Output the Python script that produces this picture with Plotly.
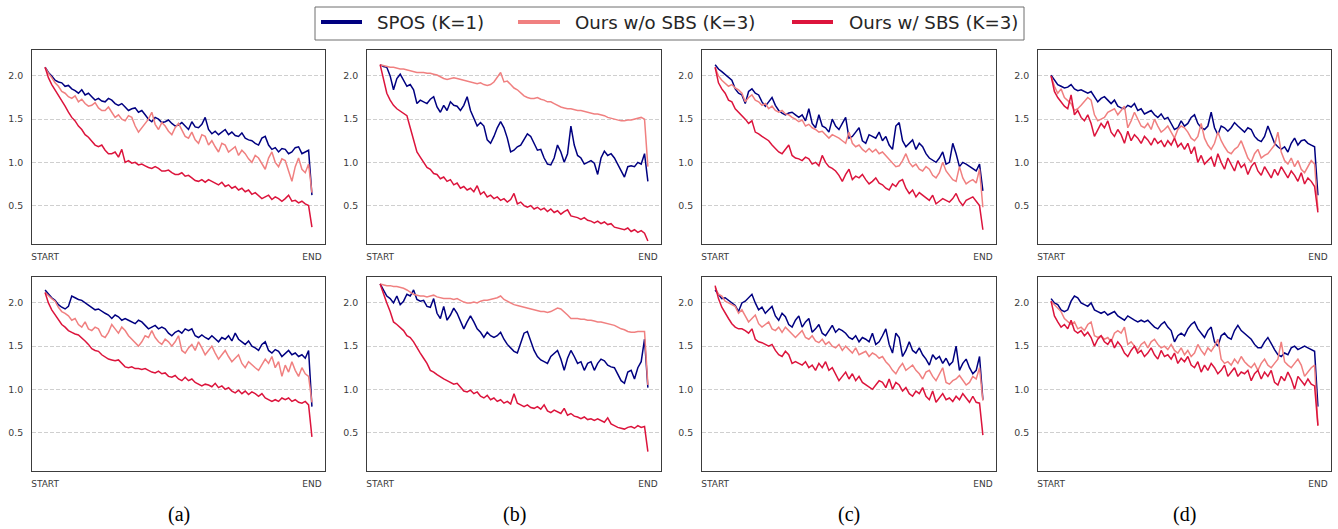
import plotly.graph_objects as go

# ---------------- data ----------------
SERIES = ["SPOS (K=1)", "Ours w/o SBS (K=3)", "Ours w/ SBS (K=3)"]
COLORS = ["#000080", "#F08080", "#DC143C"]
PANEL_LABELS = ["(a)", "(b)", "(c)", "(d)"]
X_TICKVALS = [0, 1]
X_TICKTEXT = ["START", "END"]
Y_TICKS = [0.5, 1.0, 1.5, 2.0]

a_top_spos = [2.10, 2.04, 2.00, 1.95, 1.93, 1.92, 1.88, 1.89, 1.85, 1.83,
              1.80, 1.84, 1.78, 1.80, 1.76, 1.72, 1.74, 1.71, 1.70, 1.74,
              1.72, 1.68, 1.66, 1.68, 1.64, 1.60, 1.62, 1.63, 1.58, 1.60,
              1.55, 1.50, 1.47, 1.52, 1.50, 1.46, 1.47, 1.49, 1.45, 1.42,
              1.43, 1.46, 1.42, 1.38, 1.47, 1.41, 1.40, 1.44, 1.52, 1.38,
              1.33, 1.36, 1.32, 1.35, 1.38, 1.32, 1.35, 1.31, 1.30, 1.34,
              1.28, 1.26, 1.25, 1.22, 1.20, 1.28, 1.30, 1.20, 1.15, 1.17,
              1.12, 1.16, 1.15, 1.10, 1.12, 1.17, 1.18, 1.10, 1.12, 1.14, 0.62]
a_top_wo = [2.10, 2.03, 1.98, 1.92, 1.88, 1.82, 1.80, 1.76, 1.74, 1.77,
            1.70, 1.73, 1.68, 1.65, 1.66, 1.69, 1.63, 1.60, 1.60, 1.64,
            1.58, 1.52, 1.55, 1.50, 1.48, 1.54, 1.52, 1.42, 1.35, 1.40,
            1.45, 1.50, 1.58, 1.44, 1.38, 1.46, 1.42, 1.36, 1.32, 1.40,
            1.45, 1.38, 1.30, 1.28, 1.35, 1.26, 1.22, 1.32, 1.30, 1.20,
            1.25, 1.18, 1.12, 1.22, 1.20, 1.12, 1.15, 1.18, 1.08, 1.14,
            1.10, 1.04, 1.00, 1.08, 1.05, 0.98, 0.92, 1.05, 1.12, 1.00,
            0.95, 1.04, 1.02, 0.90, 0.78, 0.95, 1.05, 0.92, 0.88, 0.98, 0.65]
a_top_w = [2.10, 1.98, 1.90, 1.84, 1.78, 1.71, 1.65, 1.58, 1.52, 1.48,
           1.42, 1.38, 1.32, 1.29, 1.25, 1.20, 1.18, 1.20, 1.14, 1.10,
           1.10, 1.12, 1.06, 1.15, 1.00, 1.02, 0.99, 1.00, 0.97, 0.98,
           0.96, 0.94, 0.93, 0.95, 0.93, 0.90, 0.90, 0.91, 0.88, 0.86,
           0.86, 0.88, 0.84, 0.85, 0.82, 0.79, 0.78, 0.80, 0.77, 0.80,
           0.78, 0.76, 0.74, 0.77, 0.72, 0.74, 0.70, 0.72, 0.68, 0.70,
           0.66, 0.68, 0.63, 0.65, 0.62, 0.58, 0.60, 0.62, 0.57, 0.60,
           0.58, 0.55, 0.58, 0.62, 0.55, 0.56, 0.53, 0.55, 0.52, 0.50, 0.25]

b_top_spos = [2.13, 2.11, 2.10, 2.00, 1.84, 1.97, 2.02, 1.95, 1.88, 1.90,
              1.84, 1.68, 1.72, 1.70, 1.68, 1.73, 1.76, 1.64, 1.58, 1.66,
              1.60, 1.70, 1.66, 1.65, 1.60, 1.66, 1.76, 1.60, 1.50, 1.42,
              1.46, 1.42, 1.26, 1.22, 1.30, 1.40, 1.47, 1.40, 1.28, 1.12,
              1.14, 1.18, 1.20, 1.26, 1.33, 1.30, 1.22, 1.14, 1.15, 1.05,
              0.98, 0.97, 1.05, 1.20, 1.12, 1.00, 1.10, 1.42, 1.20, 1.08,
              1.05, 0.98, 1.00, 1.02, 0.99, 0.86, 1.05, 1.13, 1.08, 1.10,
              1.05, 0.98, 0.90, 0.83, 0.95, 0.96, 0.95, 1.00, 0.98, 1.10, 0.78]
b_top_wo = [2.13, 2.12, 2.11, 2.10, 2.10, 2.09, 2.08, 2.08, 2.07, 2.06,
            2.05, 2.04, 2.04, 2.04, 2.03, 2.03, 2.02, 2.01, 1.99, 1.97,
            1.96, 1.97, 1.98, 1.97, 1.96, 1.95, 1.94, 1.93, 1.92, 1.91,
            1.92, 1.90, 1.89, 1.90, 1.93, 1.98, 2.04, 1.93, 1.94, 1.90,
            1.86, 1.84, 1.80, 1.77, 1.75, 1.74, 1.74, 1.75, 1.73, 1.72,
            1.70, 1.70, 1.68, 1.66, 1.64, 1.63, 1.62, 1.62, 1.61, 1.60,
            1.60, 1.59, 1.58, 1.57, 1.56, 1.56, 1.55, 1.54, 1.52, 1.51,
            1.50, 1.49, 1.48, 1.48, 1.49, 1.49, 1.50, 1.51, 1.52, 1.50, 0.95]
b_top_w = [2.13, 1.95, 1.80, 1.72, 1.66, 1.62, 1.59, 1.57, 1.54, 1.40,
           1.26, 1.12, 1.06, 1.00, 0.94, 0.92, 0.87, 0.86, 0.81, 0.83,
           0.78, 0.80, 0.74, 0.76, 0.70, 0.72, 0.68, 0.70, 0.66, 0.73,
           0.63, 0.66, 0.60, 0.62, 0.58, 0.60, 0.56, 0.58, 0.54, 0.57,
           0.64, 0.52, 0.54, 0.50, 0.48, 0.50, 0.46, 0.48, 0.45, 0.47,
           0.43, 0.46, 0.42, 0.44, 0.40, 0.43, 0.45, 0.38, 0.37, 0.36,
           0.34, 0.36, 0.33, 0.32, 0.30, 0.32, 0.29, 0.31, 0.28, 0.29,
           0.25, 0.24, 0.23, 0.22, 0.24, 0.20, 0.22, 0.19, 0.21, 0.18, 0.09]

c_top_spos = [2.13, 2.08, 2.05, 2.02, 1.98, 1.95, 1.85, 1.80, 1.78, 1.68,
              1.82, 1.85, 1.80, 1.78, 1.70, 1.65, 1.70, 1.75, 1.66, 1.60,
              1.57, 1.55, 1.57, 1.58, 1.55, 1.52, 1.55, 1.48, 1.62, 1.45,
              1.40, 1.55, 1.42, 1.40, 1.35, 1.50, 1.42, 1.38, 1.45, 1.52,
              1.28, 1.30, 1.35, 1.40, 1.25, 1.22, 1.32, 1.30, 1.28, 1.35,
              1.25, 1.30, 1.20, 1.15, 1.42, 1.46, 1.25, 1.18, 1.22, 1.26,
              1.15, 1.22, 1.18, 1.10, 1.05, 1.02, 1.00, 1.05, 1.12, 0.98,
              1.00, 1.22, 1.10, 0.95, 1.00, 0.98, 0.95, 0.92, 0.90, 0.98, 0.67]
c_top_wo = [2.10, 2.00, 1.95, 1.92, 1.88, 1.90, 1.86, 1.84, 1.80, 1.70,
            1.75, 1.78, 1.72, 1.70, 1.66, 1.68, 1.62, 1.65, 1.60, 1.58,
            1.60, 1.56, 1.55, 1.52, 1.50, 1.47, 1.49, 1.42, 1.44, 1.40,
            1.38, 1.35, 1.36, 1.32, 1.28, 1.32, 1.30, 1.28, 1.25, 1.22,
            1.35, 1.22, 1.18, 1.20, 1.15, 1.12, 1.16, 1.12, 1.15, 1.10,
            1.12, 1.08, 1.03, 1.00, 0.95, 0.96, 1.02, 1.10, 1.00, 0.95,
            0.98, 0.92, 0.90, 0.95, 0.92, 0.85, 0.82, 0.88, 1.00, 0.90,
            0.85, 0.80, 0.78, 0.95, 0.82, 0.75, 0.78, 0.80, 0.76, 0.92, 0.48]
c_top_w = [2.10, 1.92, 1.85, 1.80, 1.72, 1.70, 1.62, 1.58, 1.55, 1.50,
           1.45, 1.48, 1.35, 1.33, 1.30, 1.27, 1.25, 1.20, 1.16, 1.12,
           1.10, 1.15, 1.20, 1.08, 1.05, 1.04, 1.02, 1.06, 1.04, 0.98,
           1.00, 0.96, 1.08, 1.00, 0.95, 0.93, 0.90, 0.85, 0.78, 0.86,
           0.92, 0.80, 0.84, 0.82, 0.86, 0.80, 0.75, 0.78, 0.82, 0.76,
           0.74, 0.70, 0.68, 0.75, 0.72, 0.78, 0.80, 0.70, 0.64, 0.68,
           0.60, 0.65, 0.62, 0.58, 0.56, 0.62, 0.52, 0.55, 0.58, 0.56,
           0.54, 0.58, 0.64, 0.55, 0.50, 0.56, 0.58, 0.60, 0.55, 0.50, 0.22]

d_top_spos = [2.01, 1.95, 1.90, 1.88, 1.86, 1.87, 1.90, 1.85, 1.83, 1.84,
              1.82, 1.80, 1.82, 1.76, 1.70, 1.74, 1.76, 1.72, 1.68, 1.72,
              1.65, 1.63, 1.62, 1.66, 1.64, 1.68, 1.60, 1.62, 1.56, 1.58,
              1.60, 1.55, 1.52, 1.56, 1.50, 1.52, 1.45, 1.38, 1.40, 1.48,
              1.42, 1.45, 1.52, 1.55, 1.45, 1.40, 1.38, 1.42, 1.58, 1.40,
              1.32, 1.42, 1.40, 1.36, 1.40, 1.46, 1.42, 1.38, 1.35, 1.40,
              1.38, 1.30, 1.26, 1.24, 1.30, 1.42, 1.32, 1.22, 1.18, 1.15,
              1.18, 1.12, 1.22, 1.28, 1.20, 1.25, 1.26, 1.22, 1.20, 1.18, 0.62]
d_top_wo = [2.00, 1.88, 1.80, 1.85, 1.75, 1.72, 1.68, 1.60, 1.62, 1.66,
            1.70, 1.75, 1.72, 1.55, 1.48, 1.50, 1.52, 1.58, 1.60, 1.62,
            1.55, 1.60, 1.65, 1.40, 1.48, 1.58, 1.50, 1.42, 1.40, 1.45,
            1.38, 1.50, 1.42, 1.35, 1.38, 1.42, 1.35, 1.28, 1.38, 1.42,
            1.40, 1.35, 1.28, 1.25, 1.30, 1.45, 1.28, 1.20, 1.15, 1.22,
            1.35, 1.25, 1.18, 1.12, 1.10, 1.15, 1.18, 1.25, 1.15, 1.05,
            1.00, 1.10, 1.15, 1.05, 1.08, 1.10, 1.15, 1.20, 1.35, 1.12,
            1.02, 0.98, 1.05, 0.95, 1.02, 0.92, 0.88, 0.95, 1.02, 0.98, 0.45]
d_top_w = [2.00, 1.82, 1.75, 1.70, 1.65, 1.62, 1.78, 1.55, 1.60, 1.52,
           1.48, 1.55, 1.45, 1.30, 1.38, 1.45, 1.40, 1.48, 1.35, 1.30,
           1.38, 1.32, 1.22, 1.36, 1.25, 1.32, 1.28, 1.22, 1.30, 1.26,
           1.20, 1.28, 1.22, 1.25, 1.18, 1.25, 1.20, 1.28, 1.18, 1.22,
           1.15, 1.22, 1.10, 1.18, 1.00, 1.08, 0.98, 1.02, 1.06, 0.95,
           1.10, 1.00, 0.92, 1.05, 0.98, 0.90, 1.02, 0.94, 0.98, 0.86,
           0.95, 1.00, 0.90, 0.85, 0.95, 0.88, 0.82, 0.92, 0.85, 0.95,
           0.88, 0.82, 0.90, 0.85, 0.78, 0.88, 0.75, 0.82, 0.78, 0.72, 0.42]

a_bot_spos = [2.15, 2.10, 2.06, 2.03, 1.98, 1.95, 1.93, 1.96, 2.08, 2.06,
              2.04, 2.03, 2.00, 1.97, 1.95, 1.92, 1.93, 1.90, 1.88, 1.86,
              1.82, 1.86, 1.84, 1.80, 1.82, 1.80, 1.78, 1.76, 1.80, 1.78,
              1.74, 1.70, 1.72, 1.74, 1.70, 1.72, 1.70, 1.65, 1.62, 1.66,
              1.68, 1.65, 1.70, 1.68, 1.70, 1.62, 1.60, 1.63, 1.60, 1.58,
              1.62, 1.58, 1.55, 1.60, 1.58, 1.62, 1.56, 1.65, 1.58, 1.55,
              1.52, 1.56, 1.50, 1.48, 1.45, 1.52, 1.55, 1.45, 1.42, 1.46,
              1.44, 1.38, 1.42, 1.45, 1.40, 1.42, 1.38, 1.40, 1.36, 1.45, 0.80]
a_bot_wo = [2.12, 2.08, 2.05, 2.02, 1.95, 1.90, 1.88, 1.85, 1.80, 1.82,
            1.75, 1.72, 1.78, 1.70, 1.68, 1.72, 1.70, 1.62, 1.60, 1.66,
            1.75, 1.70, 1.65, 1.72, 1.68, 1.62, 1.58, 1.55, 1.50, 1.55,
            1.62, 1.60, 1.68, 1.60, 1.55, 1.52, 1.58, 1.55, 1.50, 1.55,
            1.62, 1.45, 1.42, 1.48, 1.52, 1.45, 1.55, 1.48, 1.40, 1.45,
            1.50, 1.42, 1.35, 1.40, 1.45, 1.38, 1.32, 1.36, 1.40, 1.30,
            1.25, 1.32, 1.28, 1.25, 1.22, 1.28, 1.35, 1.30, 1.38, 1.25,
            1.32, 1.15, 1.28, 1.20, 1.32, 1.22, 1.15, 1.25, 1.18, 1.15, 0.85]
a_bot_w = [2.12, 2.00, 1.92, 1.86, 1.80, 1.75, 1.72, 1.68, 1.66, 1.64,
           1.63, 1.60, 1.56, 1.52, 1.47, 1.45, 1.44, 1.40, 1.37, 1.35,
           1.34, 1.33, 1.34, 1.30, 1.26, 1.25, 1.26, 1.24, 1.24, 1.23,
           1.24, 1.22, 1.20, 1.19, 1.21, 1.18, 1.19, 1.15, 1.14, 1.16,
           1.12, 1.10, 1.14, 1.10, 1.12, 1.08, 1.06, 1.04, 1.06, 1.05,
           1.03, 1.07, 1.02, 1.04, 1.00, 1.02, 0.98, 0.96, 0.99, 0.95,
           0.98, 0.94, 0.97, 0.95, 0.92, 0.95, 0.90, 0.88, 0.86, 0.88,
           0.86, 0.90, 0.88, 0.90, 0.86, 0.88, 0.85, 0.84, 0.86, 0.82, 0.45]

b_bot_spos = [2.22, 2.14, 2.08, 2.05, 2.00, 2.08, 1.98, 2.02, 2.10, 2.08,
              2.15, 2.04, 2.02, 2.03, 1.96, 1.95, 2.05, 1.88, 1.82, 1.96,
              1.80, 1.86, 1.94, 1.88, 1.78, 1.70, 1.78, 1.85, 1.78, 1.70,
              1.66, 1.60, 1.66, 1.62, 1.60, 1.62, 1.66, 1.58, 1.52, 1.48,
              1.44, 1.42, 1.55, 1.65, 1.67, 1.55, 1.45, 1.38, 1.34, 1.32,
              1.30, 1.38, 1.42, 1.45, 1.35, 1.22, 1.36, 1.45, 1.38, 1.30,
              1.32, 1.22, 1.30, 1.32, 1.22, 1.30, 1.35, 1.33, 1.28, 1.26,
              1.25, 1.18, 1.10, 1.07, 1.20, 1.22, 1.12, 1.25, 1.32, 1.58, 1.02]
b_bot_wo = [2.22, 2.21, 2.20, 2.20, 2.19, 2.19, 2.18, 2.17, 2.15, 2.12,
            2.10, 2.09, 2.08, 2.08, 2.07, 2.08, 2.09, 2.07, 2.06, 2.05,
            2.05, 2.05, 2.04, 2.05, 2.03, 2.01, 2.00, 2.00, 2.01, 2.00,
            2.02, 2.03, 2.03, 2.04, 2.05, 2.06, 2.08, 2.04, 2.02, 2.00,
            1.98, 1.97, 1.96, 1.95, 1.94, 1.93, 1.92, 1.91, 1.90, 1.90,
            1.89, 1.90, 1.92, 1.94, 1.93, 1.90, 1.86, 1.82, 1.82, 1.82,
            1.81, 1.81, 1.80, 1.80, 1.79, 1.78, 1.78, 1.77, 1.76, 1.75,
            1.74, 1.72, 1.70, 1.69, 1.67, 1.66, 1.66, 1.67, 1.67, 1.67, 1.05]
b_bot_w = [2.22, 2.10, 2.00, 1.90, 1.78, 1.75, 1.72, 1.68, 1.62, 1.60,
           1.55, 1.48, 1.42, 1.36, 1.30, 1.22, 1.20, 1.17, 1.14, 1.12,
           1.10, 1.08, 1.06, 1.07, 1.02, 0.98, 0.97, 0.99, 0.95, 0.97,
           0.92, 0.90, 0.93, 0.88, 0.90, 0.86, 0.88, 0.84, 0.86, 0.83,
           0.95, 0.84, 0.82, 0.80, 0.82, 0.79, 0.78, 0.80, 0.77, 0.82,
           0.75, 0.73, 0.76, 0.74, 0.72, 0.78, 0.70, 0.72, 0.69, 0.68,
           0.66, 0.68, 0.65, 0.66, 0.64, 0.66, 0.64, 0.62, 0.67, 0.60,
           0.58, 0.56, 0.55, 0.54, 0.56, 0.57, 0.55, 0.58, 0.56, 0.57, 0.28]

c_bot_spos = [2.15, 2.10, 2.05, 2.06, 2.03, 2.00, 1.97, 1.90, 2.00, 2.02,
              2.06, 2.10, 2.00, 1.92, 1.95, 1.88, 1.92, 1.96, 1.85, 1.80,
              1.88, 1.84, 1.75, 1.72, 1.80, 1.85, 1.72, 1.78, 1.82, 1.66,
              1.70, 1.75, 1.65, 1.62, 1.68, 1.74, 1.66, 1.70, 1.68, 1.65,
              1.60, 1.58, 1.62, 1.55, 1.60, 1.58, 1.55, 1.65, 1.52, 1.55,
              1.62, 1.70, 1.52, 1.42, 1.65, 1.60, 1.38, 1.45, 1.55, 1.45,
              1.42, 1.48, 1.40, 1.35, 1.28, 1.40, 1.35, 1.38, 1.30, 1.36,
              1.28, 1.32, 1.50, 1.22, 1.30, 1.35, 1.25, 1.18, 1.22, 1.38, 0.88]
c_bot_wo = [2.18, 2.10, 2.08, 2.02, 2.00, 1.98, 1.96, 1.88, 1.92, 1.85,
            1.78, 1.82, 1.86, 1.76, 1.72, 1.75, 1.78, 1.70, 1.68, 1.72,
            1.66, 1.72, 1.68, 1.65, 1.60, 1.64, 1.68, 1.60, 1.58, 1.62,
            1.56, 1.54, 1.58, 1.52, 1.55, 1.50, 1.48, 1.52, 1.45, 1.50,
            1.46, 1.42, 1.48, 1.40, 1.42, 1.44, 1.38, 1.42, 1.40, 1.36,
            1.38, 1.32, 1.28, 1.22, 1.18, 1.25, 1.30, 1.22, 1.25, 1.28,
            1.22, 1.18, 1.12, 1.20, 1.22, 1.15, 1.10, 1.18, 1.25, 1.08,
            1.06, 1.10, 1.12, 1.16, 1.10, 1.05, 1.08, 1.15, 1.12, 1.25, 0.87]
c_bot_w = [2.20, 2.05, 1.95, 1.88, 1.82, 1.76, 1.72, 1.70, 1.70, 1.68,
           1.65, 1.70, 1.58, 1.55, 1.54, 1.52, 1.50, 1.52, 1.45, 1.40,
           1.38, 1.44, 1.40, 1.30, 1.32, 1.30, 1.28, 1.32, 1.25, 1.28,
           1.22, 1.30, 1.25, 1.32, 1.22, 1.25, 1.18, 1.10, 1.15, 1.20,
           1.12, 1.18, 1.10, 1.15, 1.08, 1.05, 1.02, 1.00, 1.05, 1.10,
           1.08, 1.02, 1.12, 1.00, 1.08, 1.05, 0.98, 1.02, 0.95, 0.92,
           0.98, 0.95, 1.02, 0.92, 0.88, 0.98, 0.85, 0.90, 0.95, 0.88,
           0.90, 0.86, 0.92, 0.88, 0.95, 0.90, 0.85, 0.92, 0.85, 0.84, 0.47]

d_bot_spos = [2.05, 2.00, 1.98, 1.92, 1.90, 1.92, 2.02, 2.08, 2.06, 2.00,
              1.98, 1.96, 2.00, 1.92, 1.90, 1.88, 1.90, 1.86, 1.88, 1.90,
              1.85, 1.82, 1.80, 1.85, 1.82, 1.80, 1.78, 1.80, 1.78, 1.80,
              1.76, 1.72, 1.70, 1.75, 1.78, 1.72, 1.68, 1.55, 1.62, 1.65,
              1.62, 1.70, 1.75, 1.78, 1.70, 1.65, 1.60, 1.68, 1.72, 1.55,
              1.50, 1.62, 1.65, 1.60, 1.58, 1.68, 1.74, 1.68, 1.65, 1.62,
              1.58, 1.52, 1.48, 1.48, 1.55, 1.60, 1.52, 1.46, 1.40, 1.38,
              1.42, 1.40, 1.48, 1.50, 1.46, 1.48, 1.50, 1.48, 1.46, 1.44, 0.80]
d_bot_wo = [2.02, 1.98, 1.95, 1.90, 1.82, 1.78, 1.75, 1.78, 1.70, 1.72,
            1.68, 1.75, 1.78, 1.62, 1.60, 1.62, 1.58, 1.60, 1.55, 1.65,
            1.68, 1.65, 1.72, 1.52, 1.55, 1.50, 1.45, 1.52, 1.55, 1.48,
            1.55, 1.58, 1.52, 1.48, 1.50, 1.46, 1.52, 1.45, 1.42, 1.48,
            1.40, 1.45, 1.38, 1.42, 1.52, 1.45, 1.40, 1.48, 1.44, 1.50,
            1.58, 1.35, 1.30, 1.32, 1.28, 1.35, 1.30, 1.38, 1.32, 1.28,
            1.25, 1.30, 1.22, 1.30, 1.35, 1.28, 1.25, 1.30, 1.35, 1.55,
            1.32, 1.28, 1.25, 1.30, 1.35, 1.28, 1.15, 1.20, 1.25, 1.28, 0.58]
d_bot_w = [2.02, 1.85, 1.78, 1.72, 1.75, 1.70, 1.80, 1.68, 1.65, 1.68,
           1.62, 1.66, 1.60, 1.50, 1.58, 1.62, 1.55, 1.52, 1.58, 1.48,
           1.55, 1.50, 1.42, 1.38, 1.45, 1.50, 1.42, 1.45, 1.38, 1.42,
           1.48, 1.40, 1.35, 1.45, 1.38, 1.40, 1.35, 1.42, 1.30, 1.36,
           1.32, 1.38, 1.28, 1.25, 1.32, 1.20, 1.28, 1.22, 1.30, 1.25,
           1.18, 1.22, 1.28, 1.15, 1.20, 1.25, 1.15, 1.20, 1.18, 1.22,
           1.10, 1.18, 1.22, 1.12, 1.20, 1.15, 1.22, 1.08, 1.05, 1.15,
           1.10, 1.20, 1.12, 1.00, 1.15, 1.10, 1.05, 1.12, 1.06, 1.04, 0.58]

PANEL_DATA = [
    [a_top_spos, a_top_wo, a_top_w],
    [b_top_spos, b_top_wo, b_top_w],
    [c_top_spos, c_top_wo, c_top_w],
    [d_top_spos, d_top_wo, d_top_w],
    [a_bot_spos, a_bot_wo, a_bot_w],
    [b_bot_spos, b_bot_wo, b_bot_w],
    [c_bot_spos, c_bot_wo, c_bot_w],
    [d_bot_spos, d_bot_wo, d_bot_w],
]

# ---------------- layout geometry (pixels) ----------------
W, H = 1338, 529
COL_PX = [(32, 325), (367, 661), (702, 996), (1038, 1331)]
ROW_PX = [(50, 244), (277, 471)]
Y_RANGE = [0.055, 2.30]
X_RANGE = [-0.049, 1.049]

FONT = "DejaVu Sans"
TICK_COLOR = "#3a3a3a"

fig = go.Figure()
layout = dict(
    width=W, height=H, autosize=False,
    margin=dict(l=0, r=0, t=0, b=0),
    paper_bgcolor="white", plot_bgcolor="white",
    showlegend=False,
    font=dict(family=FONT, color=TICK_COLOR),
)

for p, series in enumerate(PANEL_DATA):
    r, c = divmod(p, 4)
    suffix = "" if p == 0 else str(p + 1)
    xname, yname = "x" + suffix, "y" + suffix
    x0, x1 = COL_PX[c]
    ytop, ybot = ROW_PX[r]
    layout["xaxis" + suffix] = dict(
        domain=[x0 / W, x1 / W], anchor=yname, range=X_RANGE,
        tickmode="array", tickvals=X_TICKVALS, ticktext=X_TICKTEXT,
        showgrid=False, zeroline=False,
        showline=True, mirror=True, linecolor="#3c3c3c", linewidth=1,
        ticks="outside", ticklen=4, tickcolor="rgba(0,0,0,0)",
        tickfont=dict(family=FONT, size=9, color=TICK_COLOR),
        fixedrange=True,
    )
    layout["yaxis" + suffix] = dict(
        domain=[1 - ybot / H, 1 - ytop / H], anchor=xname, range=Y_RANGE,
        tickmode="array", tickvals=Y_TICKS, ticktext=[f"{v:.1f}" for v in Y_TICKS],
        showgrid=True, gridcolor="#cfcfcf", gridwidth=0.8, griddash="4px,2px",
        zeroline=False,
        showline=True, mirror=True, linecolor="#3c3c3c", linewidth=1,
        ticks="outside", ticklen=6, tickcolor="rgba(0,0,0,0)",
        tickfont=dict(family=FONT, size=9.4, color=TICK_COLOR),
        fixedrange=True,
    )
    for name, color, vals in zip(SERIES, COLORS, series):
        n = len(vals)
        xs = [i / (n - 1) for i in range(n)]
        fig.add_trace(go.Scatter(
            x=xs, y=vals, mode="lines", name=name,
            line=dict(color=color, width=1.5),
            xaxis=xname, yaxis=yname, showlegend=False, hoverinfo="skip",
        ))

# ---------------- legend (drawn) ----------------
LEG_BOX = (315, 7, 1024, 40)
LEG_HANDLES = [(321, 362), (518, 560), (792, 833)]
LEG_TEXT_X = [375, 573, 847]
LEG_Y = 22
shapes = [dict(type="rect", xref="paper", yref="paper",
               x0=LEG_BOX[0] / W, x1=LEG_BOX[2] / W,
               y0=1 - LEG_BOX[3] / H, y1=1 - LEG_BOX[1] / H,
               line=dict(color="#6e6e6e", width=1), fillcolor="white", layer="above")]
annotations = []
for (hx0, hx1), tx, name, color in zip(LEG_HANDLES, LEG_TEXT_X, SERIES, COLORS):
    shapes.append(dict(type="line", xref="paper", yref="paper",
                       x0=hx0 / W, x1=hx1 / W, y0=1 - LEG_Y / H, y1=1 - LEG_Y / H,
                       line=dict(color=color, width=4.2), layer="above"))
    annotations.append(dict(xref="paper", yref="paper", x=tx / W, y=1 - (LEG_Y + 0.5) / H,
                            xanchor="left", yanchor="middle", showarrow=False, text=name,
                            font=dict(family=FONT, size=18.2, color="#262626")))

# ---------------- panel labels ----------------
for c, lab in enumerate(PANEL_LABELS):
    cx = (COL_PX[c][0] + COL_PX[c][1]) / 2
    annotations.append(dict(xref="paper", yref="paper", x=cx / W, y=1 - 514 / H,
                            xanchor="center", yanchor="middle", showarrow=False, text=lab,
                            font=dict(family="Liberation Serif", size=20, color="black")))

layout["shapes"] = shapes
layout["annotations"] = annotations
fig.update_layout(**layout)
fig.write_html(
    "out.html",
    config={"displayModeBar": False},
    post_script="document.body.style.margin='0px';document.body.style.overflow='hidden';",
)
